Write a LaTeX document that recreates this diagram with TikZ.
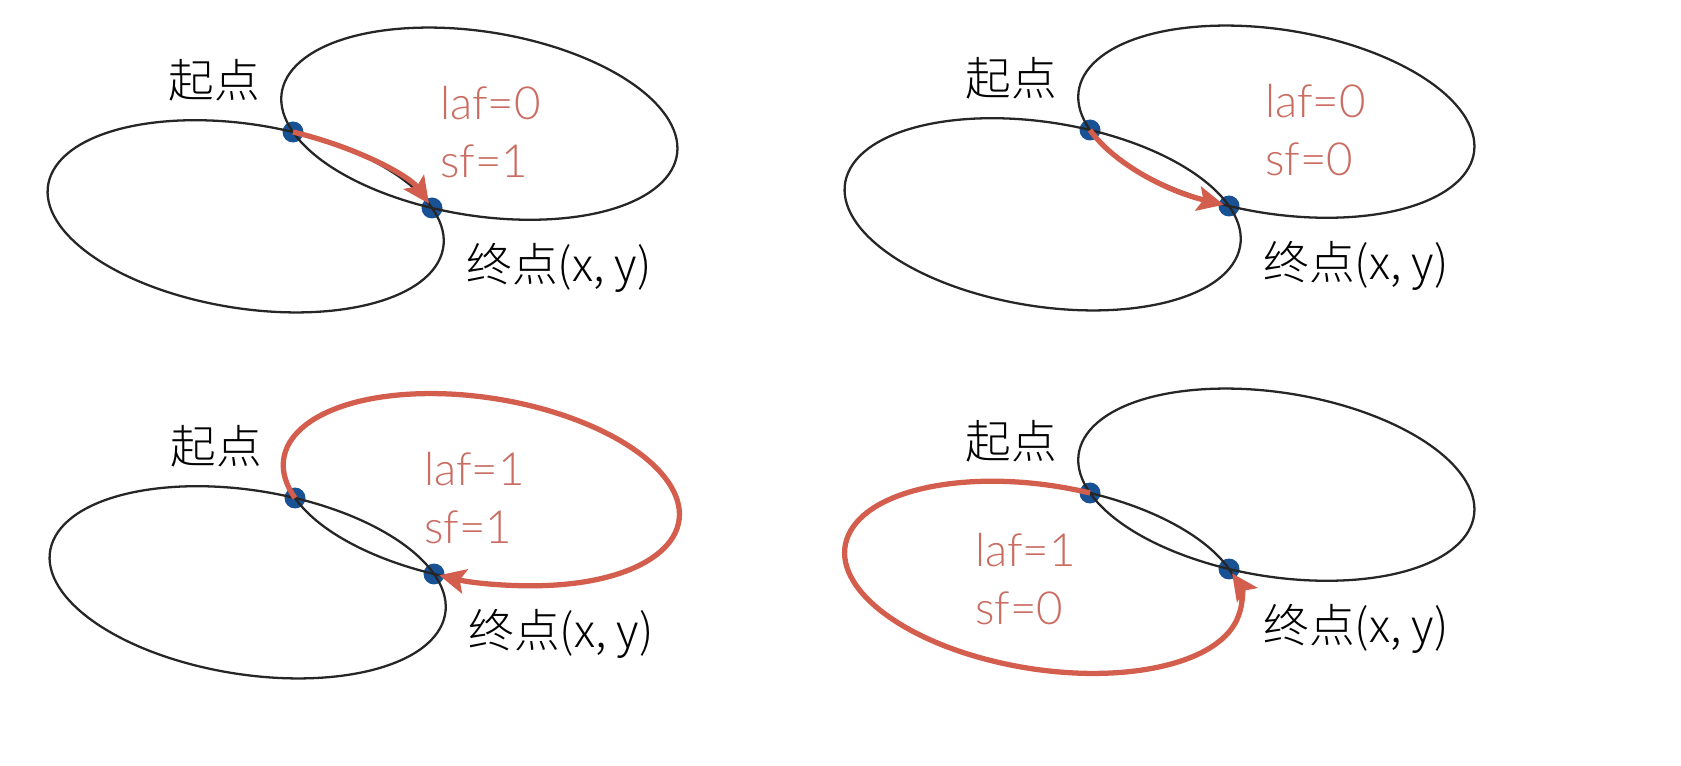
\documentclass[tikz,border=0pt]{standalone}
\usepackage{fontspec}
\usetikzlibrary{arrows.meta, positioning}
\newfontfamily\cjk{Noto Sans CJK SC Light}
\newfontfamily\flagfont{Lato Light}
\definecolor{arcred}{RGB}{211,94,78}
\definecolor{flagred}{RGB}{201,108,98}
\definecolor{dotblue}{RGB}{24,82,148}

\tikzset{
  endpt/.style={circle, fill=dotblue, inner sep=0pt, minimum size=0.42cm},
  orbit/.style={draw=black!85, line width=1.3pt, rotate=-9},
  sweep/.style={draw=arcred, line width=3pt, rotate=-9, -{Stealth[length=15pt, width=14pt, inset=3pt]}, shorten >=3pt},
  tag/.style={font=\cjk\fontsize{26}{30}\selectfont, on grid},
  flags/.style={font=\flagfont\fontsize{26}{33}\selectfont, text=flagred, align=left, anchor=west, inner sep=0pt}
}

\begin{document}
\begin{tikzpicture}[x=0.02cm, y=0.02cm]
\useasboundingbox (0,0) rectangle (1681,-766);

\foreach \i/\px/\py/\as/\ae/\fx/\fy/\laf/\sf in {
  1/293/-132/80.34/23.97/2.94cm/0cm/0/1,
  2/1090/-130/203.97/260.34/3.5cm/0cm/0/0,
  3/295/-498/203.97/-99.66/2.58cm/0cm/1/1,
  4/1090/-493/80.34/383.97/-2.3cm/1.72cm/1/0}
{
  \node[endpt] (S\i) at (\px,\py) {};
  \node[endpt] (E\i) at (\px+139,\py-76) {};

  % both ellipses through start and end
  \draw[orbit] (S\i.center) arc[start angle=203.97, delta angle=360, x radius=200, y radius=92];
  \draw[orbit] (S\i.center) arc[start angle=80.34, delta angle=360, x radius=200, y radius=92];
  \draw[sweep] (S\i.center) arc[start angle=\as, end angle=\ae, x radius=200, y radius=92];

  \node[tag, above left=1.04cm and 1.58cm of S\i] (st\i) {起点};
  \node[tag, below right=1.2cm and 2.54cm of E\i] (en\i) {终点(x, y)};
  \node[on grid, below right=\fy and \fx of S\i, flags] (fl\i) {laf=\laf\\sf=\sf};
}
\end{tikzpicture}
\end{document}
